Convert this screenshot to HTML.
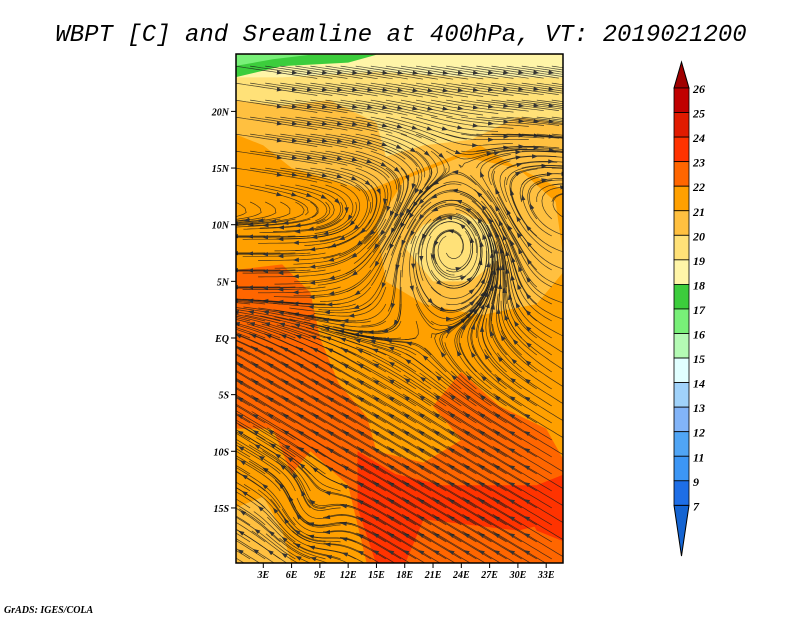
<!DOCTYPE html>
<html><head><meta charset="utf-8">
<style>
html,body{margin:0;padding:0;background:#fff;}
body{width:800px;height:618px;overflow:hidden;font-family:"Liberation Mono",monospace;}
svg text{font-family:"Liberation Serif",serif;font-style:italic;font-weight:bold;}
</style></head>
<body>
<svg id="chart" width="800" height="618" viewBox="0 0 800 618" xmlns="http://www.w3.org/2000/svg">
<defs>
<marker id="arr" markerWidth="6" markerHeight="6" refX="3" refY="3" orient="auto" markerUnits="userSpaceOnUse">
<path d="M0,0.8 L6,3 L0,5.2 Z" fill="#333"/>
</marker>
<clipPath id="mapclip"><rect x="236" y="54" width="327" height="509"/></clipPath>
</defs>
<text x="401" y="41" text-anchor="middle" font-size="24" style="font-family:'Liberation Mono',monospace;font-weight:normal;font-style:italic" fill="#000">WBPT [C] and Sreamline at 400hPa, VT: 2019021200</text>
<g id="map" clip-path="url(#mapclip)"></g>
<g id="streams" clip-path="url(#mapclip)"></g>
<rect x="236" y="54" width="327" height="509" fill="none" stroke="#000" stroke-width="1.5"/>
<g id="axes"></g>
<g id="cbar"></g>
<text x="4" y="613" font-size="10" fill="#000">GrADS: IGES/COLA</text>
</svg>
<script>
const latTicks=[20,15,10,5,0,-5,-10,-15];
const latLabels=["20N","15N","10N","5N","EQ","5S","10S","15S"];
const lonTicks=[3,6,9,12,15,18,21,24,27,30,33];
const lonLabels=["3E","6E","9E","12E","15E","18E","21E","24E","27E","30E","33E"];
const cbLabels=["26","25","24","23","22","21","20","19","18","17","16","15","14","13","12","11","9","7"];
const cbColors=["#c00000","#e11b00","#ff3300","#ff6600","#ffa000","#ffc040","#ffe178","#fff5a8","#3ccd3c","#78f078","#b4fab4","#e1ffff","#a0d2fa","#82b4f8","#50a5f5","#3c96f5","#1e6ee6"];
const regionColors=["#ffc040","#ffe178","#fff5a8","#3ccd3c","#78f078","#ffc040","#ffe178","#ff6600","#ff6600","#ff3300","#ff3300","#ffc040"];
const regionPolys=[
 [[0,25],[35,25],[35,13],[30,15],[26,17],[20,15],[14,13],[10,14],[6,15],[3,17],[0,18]],
 [[0,25],[35,25],[35,19],[30,19.5],[25,17.5],[20,17],[16,16],[15,19],[10,21],[5,20.5],[0,21]],
 [[0,25],[35,25],[35,23],[25,23],[15,23.5],[5,23],[0,23]],
 [[0,25],[15,25],[12,24.3],[5,24],[0,23]],
 [[0,25],[8,25],[4,24.6],[0,24]],
 [[15,10],[18,14],[24,16],[30,15],[34,12],[35,6],[32,3],[26,2],[20,3],[16,5]],
 [[18,8],[20,10],[24,11],[27,10],[28,7],[25,5],[21,5]],
 [[0,6],[5,6.5],[8,4],[9,0],[11,-4],[14,-7],[15,-10],[20,-11],[24,-9],[21,-6],[24,-3],[28,-6],[33,-8],[35,-11],[35,-20],[14,-20],[12,-13],[8,-10],[6,-12],[4,-8],[0,-8]],
 [[5,-6],[8,-8],[7,-10],[5,-9]],
 [[13,-10],[17,-12],[22,-13],[27,-13],[32,-13],[35,-12],[35,-16],[30,-17],[25,-16.5],[20,-16],[18,-20],[15,-20],[13,-15]],
 [[30,-14],[35,-13],[35,-18],[32,-17]],
 [[0,-15],[3,-14],[5,-17],[6,-20],[0,-20]]
];
const X=lon=>235+9.43*lon, Y=lat=>338-11.33*lat;
const NS="http://www.w3.org/2000/svg";
function mk(tag,attrs,parent){const e=document.createElementNS(NS,tag);for(const k in attrs)e.setAttribute(k,attrs[k]);parent.appendChild(e);return e;}
const mapG=document.getElementById('map');
const bg=mk('rect',{x:236,y:54,width:327,height:509,fill:'#ffa000'},mapG);


regionPolys.forEach((p,i)=>{
 const e=mk('polygon',{points:p.map(q=>X(q[0])+','+Y(q[1])).join(' '),fill:regionColors[i],stroke:'none'},mapG);
 
 
});
function field(lon,lat){
 let u=0,v=0;
 const dx=lon-23,dy=lat-8,r2=dx*dx+dy*dy;
 const w=Math.exp(-r2/50);
 u+=w*(-dy)*0.3; v+=w*(dx)*0.3;
 const n=Math.max(0,Math.min(1,(lat-9)/6));
 u+=(1-w)*n*1.2; v+=(1-w)*n*(-0.15);
 const s=1-n;
 const t=Math.max(0,Math.min(1,(4-lat)/6));
 u+=(1-w)*s*(-0.8); v+=(1-w)*s*0.4*t;
 const sw=Math.exp(-((lon-8)**2+(lat+16)**2)/10);
 u+=sw*(lat+16)*0.4; v+=sw*(-(lon-8))*0.4;
 return [u,v];
}
const st=document.getElementById('streams');
for(let lo=0;lo<=36;lo+=1.6){for(let la=-21;la<=25;la+=1.5){
 let x=lo,y=la,pts=[[x,y]];
 for(let k=0;k<22;k++){const [u,v]=field(x,y);const m=Math.hypot(u,v)||1;x+=u/m*0.4;y+=v/m*0.4;pts.push([x,y]);}
 const d='M'+pts.map(p=>X(p[0]).toFixed(1)+','+Y(p[1]).toFixed(1)).join(' L');
 const e=mk('path',{d:d,fill:'none',stroke:'#1a1a1a','stroke-width':0.7,'stroke-opacity':0.8},st);
 
 
 const a=pts[11],b=pts[12];
 const ar=mk('path',{d:`M${X(a[0])},${Y(a[1])} L${X(b[0])},${Y(b[1])}`,stroke:'none',fill:'none','marker-end':'url(#arr)'},st);
 
 
}}
const axG=document.getElementById('axes');
latTicks.forEach((t,i)=>{
 mk('line',{x1:231,x2:236,y1:Y(t),y2:Y(t),stroke:'#000'},axG);
 const e=mk('text',{x:229,y:Y(t)+4,'text-anchor':'end','font-size':10},axG);e.textContent=latLabels[i];
 
 
});
lonTicks.forEach((t,i)=>{
 mk('line',{x1:X(t),x2:X(t),y1:563,y2:568,stroke:'#000'},axG);
 const e=mk('text',{x:X(t),y:578,'text-anchor':'middle','font-size':10},axG);e.textContent=lonLabels[i];
 
 
});
const cbG=document.getElementById('cbar');
const cbTop=88,cbH=24.55,cbX=674,cbW=15;
mk('polygon',{points:`${cbX},${cbTop} ${cbX+cbW},${cbTop} ${cbX+cbW/2},62`,fill:'#a00000',stroke:'#000'},cbG);
cbColors.forEach((c,i)=>{
 const e=mk('rect',{x:cbX,y:cbTop+i*cbH,width:cbW,height:cbH,fill:c,stroke:'#000','stroke-width':0.8},cbG);
 
 
});
const cbBot=cbTop+cbColors.length*cbH;
mk('polygon',{points:`${cbX},${cbBot} ${cbX+cbW},${cbBot} ${cbX+cbW/2},556`,fill:'#1464d2',stroke:'#000'},cbG);
cbLabels.forEach((l,i)=>{
 const e=mk('text',{x:693,y:cbTop+i*cbH+5,'font-size':12},cbG);e.textContent=l;
 
 
});
</script>
</body></html>
